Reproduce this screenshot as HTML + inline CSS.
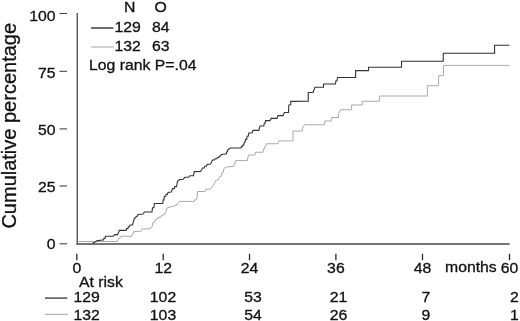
<!DOCTYPE html>
<html><head><meta charset="utf-8"><title>chart</title>
<style>
html,body{margin:0;padding:0;background:#fff;}
body{width:520px;height:321px;overflow:hidden;}
svg{display:block;will-change:transform;}
text{font-family:"Liberation Sans",sans-serif;fill:#111;stroke:#111;stroke-width:0.3px;font-size:14.9px;}
</style></head><body>
<svg width="520" height="321" viewBox="0 0 520 321">
<rect width="520" height="321" fill="#fff"/>
<!-- axes -->
<line x1="77.25" y1="13" x2="77.25" y2="244.6" stroke="#484848" stroke-width="1.3"/>
<line x1="76.6" y1="244" x2="509.6" y2="244" stroke="#484848" stroke-width="1.3"/>
<!-- y ticks -->
<g stroke="#444" stroke-width="1.1">
<line x1="59.5" y1="13.5" x2="67" y2="13.5"/>
<line x1="59.5" y1="71.3" x2="67" y2="71.3"/>
<line x1="59.5" y1="128.9" x2="67" y2="128.9"/>
<line x1="59.5" y1="186" x2="67" y2="186"/>
<line x1="59.5" y1="243.8" x2="67" y2="243.8"/>
</g>
<text transform="translate(55.5,20.9) scale(1.06,1)" text-anchor="end">100</text>
<text transform="translate(55.5,78.4) scale(1.06,1)" text-anchor="end">75</text>
<text transform="translate(55.5,134.7) scale(1.06,1)" text-anchor="end">50</text>
<text transform="translate(55.5,192.2) scale(1.06,1)" text-anchor="end">25</text>
<text transform="translate(55.5,249.3) scale(1.06,1)" text-anchor="end">0</text>
<!-- x ticks -->
<g stroke="#2a2a2a" stroke-width="1.3">
<line x1="76.8" y1="253.7" x2="76.8" y2="260.2"/>
<line x1="163.2" y1="253.7" x2="163.2" y2="260.2"/>
<line x1="249.5" y1="253.7" x2="249.5" y2="260.2"/>
<line x1="335.9" y1="253.7" x2="335.9" y2="260.2"/>
<line x1="422.5" y1="253.7" x2="422.5" y2="260.2"/>
<line x1="509.5" y1="253.7" x2="509.5" y2="260.2"/>
</g>
<text transform="translate(76.8,272.7) scale(1.06,1)" text-anchor="middle">0</text>
<text transform="translate(163.2,272.7) scale(1.06,1)" text-anchor="middle">12</text>
<text transform="translate(249.5,272.7) scale(1.06,1)" text-anchor="middle">24</text>
<text transform="translate(335.9,272.7) scale(1.06,1)" text-anchor="middle">36</text>
<text transform="translate(422.5,272.7) scale(1.06,1)" text-anchor="middle">48</text>
<text transform="translate(509.5,272.7) scale(1.06,1)" text-anchor="middle">60</text>
<text transform="translate(445,272) scale(1.06,1)" text-anchor="start">months</text>
<!-- ylabel -->
<text transform="translate(15.9,228.6) rotate(-90)" style="font-size:20px;stroke-width:0.3px">Cumulative percentage</text>
<!-- legend -->
<text transform="translate(124,12) scale(1.06,1)" text-anchor="start">N</text>
<text transform="translate(154.5,12) scale(1.06,1)" text-anchor="start">O</text>
<text transform="translate(114.5,32.3) scale(1.06,1)" text-anchor="start">129</text>
<text transform="translate(152,32.3) scale(1.06,1)" text-anchor="start">84</text>
<text transform="translate(114.5,50.5) scale(1.06,1)" text-anchor="start">132</text>
<text transform="translate(152,50.5) scale(1.06,1)" text-anchor="start">63</text>
<text transform="translate(89,70.2) scale(1.06,1)" text-anchor="start">Log rank P=.04</text>
<text transform="translate(79,287) scale(1.06,1)" text-anchor="start">At risk</text>
<text transform="translate(73.5,301.9) scale(1.06,1)" text-anchor="start">129</text>
<text transform="translate(73.5,319.8) scale(1.06,1)" text-anchor="start">132</text>
<line x1="91" y1="28" x2="113.5" y2="28" stroke="#333" stroke-width="1.4"/>
<line x1="91" y1="47" x2="113.5" y2="47" stroke="#b4b4b4" stroke-width="1.2"/>
<line x1="45" y1="298.1" x2="67.3" y2="298.1" stroke="#333" stroke-width="1.3"/>
<line x1="45" y1="314.4" x2="68" y2="314.4" stroke="#b4b4b4" stroke-width="1.2"/>
<text transform="translate(163,301.9) scale(1.06,1)" text-anchor="middle">102</text>
<text transform="translate(163,319.8) scale(1.06,1)" text-anchor="middle">103</text>
<text transform="translate(253,301.9) scale(1.06,1)" text-anchor="middle">53</text>
<text transform="translate(253,319.8) scale(1.06,1)" text-anchor="middle">54</text>
<text transform="translate(338.5,301.9) scale(1.06,1)" text-anchor="middle">21</text>
<text transform="translate(338.5,319.8) scale(1.06,1)" text-anchor="middle">26</text>
<text transform="translate(426,301.9) scale(1.06,1)" text-anchor="middle">7</text>
<text transform="translate(426,319.8) scale(1.06,1)" text-anchor="middle">9</text>
<text transform="translate(514.3,301.9) scale(1.06,1)" text-anchor="middle">2</text>
<text transform="translate(514.3,319.8) scale(1.06,1)" text-anchor="middle">1</text>
<!-- curves -->
<polyline fill="none" stroke="#aaa" stroke-width="1" stroke-linejoin="miter" points="78.50,241.50 117.00,241.50 118.50,238.75 119.25,238.75 119.75,237.53 120.50,237.53 121.00,236.30 131.25,236.25 132.00,236.25 132.50,233.88 133.25,233.88 133.75,231.50 141.00,231.30 142.00,229.00 150.00,228.75 152.00,227.00 153.00,222.50 154.12,222.50 154.62,220.62 155.75,220.62 156.25,218.75 158.25,218.75 158.75,217.18 160.75,217.18 161.25,215.60 162.93,215.60 163.43,214.05 165.10,214.05 165.60,212.50 167.00,208.00 172.50,206.25 174.50,206.25 175.00,205.00 177.00,205.00 177.50,203.75 179.40,201.30 192.50,201.50 194.25,201.50 194.75,199.75 196.50,199.75 197.00,198.00 197.50,191.50 205.00,191.50 205.60,189.40 210.60,189.00 212.00,187.00 213.75,185.00 215.60,180.60 218.00,180.00 220.00,176.25 221.38,176.25 221.88,172.50 223.25,172.50 223.75,168.75 226.25,167.00 233.00,166.50 233.80,166.50 234.30,163.55 235.10,163.55 235.60,160.60 247.25,160.60 248.50,155.00 255.00,155.00 255.60,152.25 263.00,152.25 263.75,148.75 264.50,148.75 265.00,146.25 265.75,146.25 266.25,143.75 278.00,143.75 278.75,140.90 293.00,140.90 293.00,131.00 302.38,131.00 302.38,128.50 304.40,124.75 324.70,124.75 324.70,121.00 331.62,121.00 331.62,117.50 338.38,117.50 338.38,113.75 340.60,109.75 351.62,109.75 351.62,105.00 362.25,105.00 362.25,101.25 379.40,101.25 379.40,96.00 427.40,96.00 427.40,85.70 438.60,85.70 438.60,75.60 443.50,75.60 443.50,65.40 509.60,65.40"/>
<polyline fill="none" stroke="#333" stroke-width="1.1" stroke-linejoin="miter" points="92.50,243.30 94.50,242.30 97.50,240.60 102.50,240.00 103.55,240.00 104.05,238.12 105.10,238.12 105.60,236.25 113.00,236.25 115.00,234.60 117.60,234.60 119.40,230.40 125.00,230.40 126.17,230.40 126.67,228.60 127.83,228.60 128.33,226.80 129.50,226.80 130.00,225.00 132.50,225.00 134.40,218.00 135.70,218.00 136.20,216.20 137.50,216.20 138.00,214.40 143.00,214.00 144.40,212.00 150.60,212.00 152.00,212.00 152.50,207.75 153.90,207.75 154.40,203.50 162.00,203.50 162.70,203.50 163.20,199.88 163.90,199.88 164.40,196.25 165.70,196.25 166.20,194.38 167.50,194.38 168.00,192.50 171.25,192.00 172.60,188.60 174.25,188.60 174.75,186.65 176.40,186.65 176.90,184.70 177.50,181.40 179.50,179.60 183.30,179.20 184.90,177.30 188.40,177.30 190.00,175.80 193.50,175.80 194.20,171.60 200.60,171.40 202.50,168.00 204.25,168.00 204.75,166.20 206.50,166.20 207.00,164.40 210.60,164.00 212.50,160.00 214.50,160.00 215.00,158.75 217.00,158.75 217.50,157.50 218.88,157.50 219.38,155.95 220.75,155.95 221.25,154.40 225.60,154.00 226.30,154.00 226.80,151.70 227.50,151.70 228.00,149.40 230.60,148.00 240.00,148.00 241.00,148.00 241.50,146.50 242.50,146.50 243.00,145.00 243.80,145.00 244.30,142.20 245.10,142.20 245.60,139.40 246.68,139.40 247.18,136.20 248.25,136.20 248.75,133.00 252.00,133.00 253.00,130.40 258.75,130.40 260.00,126.00 263.00,126.00 263.80,126.00 264.30,123.30 265.10,123.30 265.60,120.60 270.00,120.60 271.25,118.40 277.00,118.40 278.00,115.60 283.00,115.60 284.40,112.50 288.50,112.50 288.80,105.00 290.75,104.70 290.75,101.40 308.23,101.30 308.23,92.50 313.00,92.50 315.00,87.25 323.50,87.25 323.50,84.00 334.40,84.00 335.45,84.00 335.95,80.75 337.00,80.75 337.50,77.50 355.62,77.50 355.62,70.60 368.50,70.60 368.50,67.25 401.50,67.25 401.50,61.20 443.25,61.20 443.25,53.30 494.60,53.30 494.60,45.30 509.60,45.30"/>
</svg>
</body></html>
